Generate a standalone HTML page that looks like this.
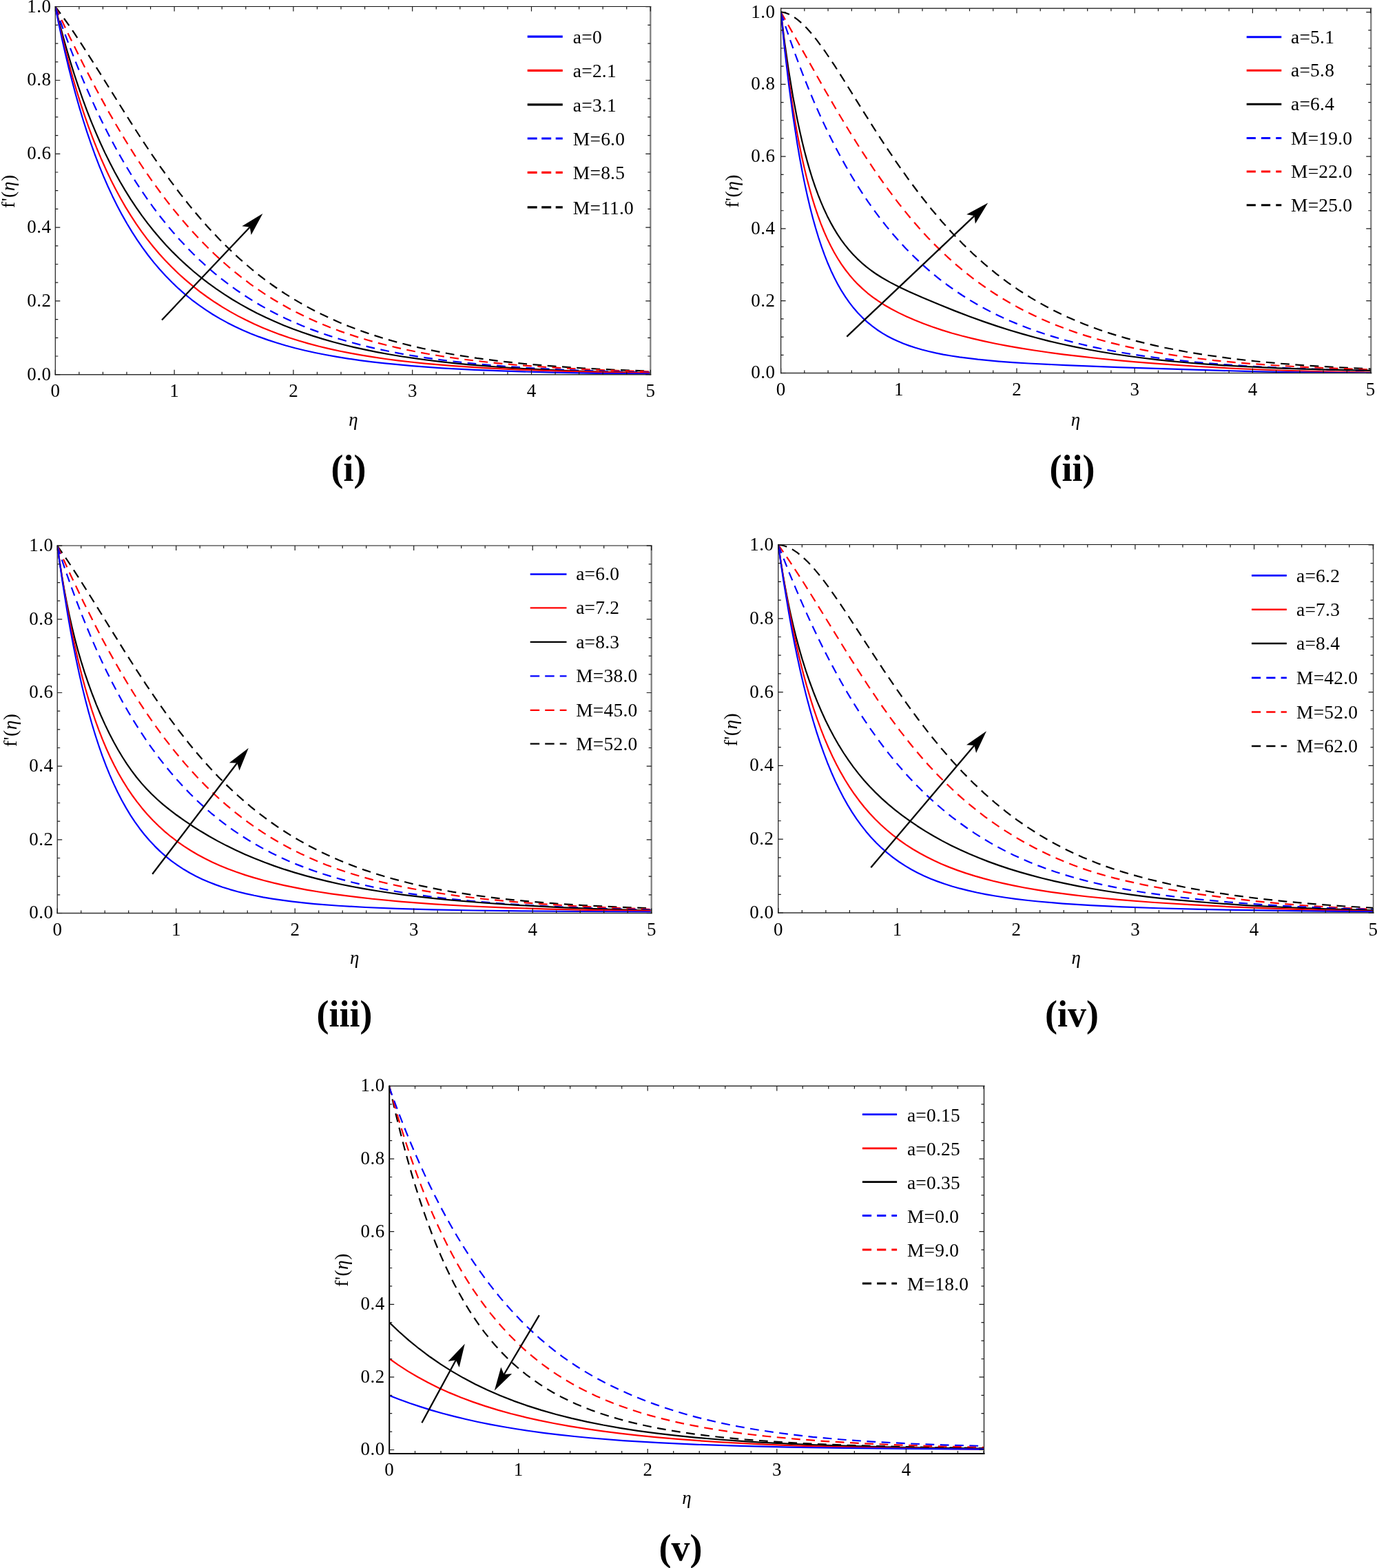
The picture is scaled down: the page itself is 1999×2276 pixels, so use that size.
<!DOCTYPE html>
<html><head><meta charset="utf-8"><title>f'(η) profiles</title>
<style>html,body{margin:0;padding:0;background:#fff;}svg{display:block;}text{font-family:'Liberation Serif','Times New Roman',serif;fill:#000;}</style>
</head><body>
<svg xmlns="http://www.w3.org/2000/svg" width="1999" height="2276" viewBox="0 0 1999 2276">
<rect width="1999" height="2276" fill="#fff"/>
<clipPath id="c1"><rect x="80.3" y="8.5" width="864.0" height="535.2"/></clipPath>
<g clip-path="url(#c1)" fill="none" stroke-width="2.2" stroke-linejoin="round">
<path d="M80.30,9.60 L88.95,21.16 L98.04,33.89 L107.69,47.97 L118.10,63.69 L137.38,93.84 L188.63,175.68 L203.98,199.49 L218.04,220.67 L232.74,242.04 L247.01,261.91 L261.07,280.58 L274.91,298.07 L283.77,308.80 L292.85,319.41 L301.72,329.40 L310.80,339.25 L319.88,348.73 L328.96,357.84 L338.05,366.58 L347.13,374.95 L356.42,383.17 L365.72,391.02 L375.02,398.52 L384.53,405.85 L394.26,412.98 L403.99,419.76 L413.94,426.34 L423.89,432.59 L434.92,439.15 L445.94,445.35 L457.19,451.30 L468.86,457.12 L480.54,462.59 L492.65,467.92 L504.76,472.91 L517.30,477.76 L530.06,482.36 L543.25,486.80 L556.65,491.00 L570.28,494.96 L584.33,498.76 L598.60,502.32 L613.30,505.72 L628.44,508.93 L643.79,511.93 L659.58,514.76 L692.44,519.90 L727.26,524.40 L764.45,528.31 L804.23,531.67 L847.26,534.51 L893.97,536.87 L945.00,538.80" stroke="#000000" stroke-dasharray="12.8 8.5"/>
<path d="M80.30,9.60 L100.70,52.67 L120.35,92.33 L139.55,129.21 L158.36,163.42 L167.87,179.97 L177.17,195.65 L186.47,210.85 L195.77,225.55 L205.06,239.75 L214.36,253.47 L223.66,266.70 L233.17,279.74 L242.69,292.29 L252.20,304.34 L261.93,316.16 L271.66,327.49 L281.39,338.34 L291.34,348.94 L301.29,359.06 L311.23,368.71 L321.40,378.10 L331.56,387.04 L341.94,395.71 L352.53,404.11 L363.13,412.06 L373.94,419.73 L384.97,427.12 L396.21,434.23 L407.45,440.91 L418.70,447.21 L430.37,453.36 L442.27,459.24 L454.38,464.85 L466.70,470.19 L479.24,475.27 L492.00,480.09 L505.19,484.73 L518.60,489.11 L532.43,493.30 L546.71,497.30 L561.19,501.05 L576.11,504.60 L591.47,507.96 L607.03,511.08 L622.82,513.97 L639.25,516.72 L656.12,519.28 L673.63,521.69 L710.39,526.02 L749.75,529.74 L792.13,532.89 L838.18,535.53 L888.78,537.70 L945.00,539.45" stroke="#ff0000" stroke-dasharray="12.8 8.5"/>
<path d="M80.30,9.68 L87.35,30.04 L94.48,49.82 L101.71,69.12 L109.04,87.94 L116.47,106.28 L123.98,124.05 L131.59,141.34 L139.33,158.22 L147.11,174.49 L155.12,190.51 L163.12,205.84 L171.33,220.91 L179.77,235.69 L188.20,249.81 L196.85,263.63 L205.50,276.82 L214.36,289.70 L223.44,302.27 L232.53,314.24 L241.82,325.89 L251.34,337.21 L260.85,347.96 L270.58,358.39 L280.53,368.49 L290.69,378.26 L300.85,387.50 L311.45,396.60 L322.04,405.18 L332.86,413.44 L344.10,421.52 L355.34,429.12 L367.02,436.52 L378.26,443.22 L389.94,449.74 L401.83,455.96 L413.94,461.89 L426.27,467.52 L439.02,472.96 L452.00,478.11 L465.19,482.98 L478.81,487.63 L492.65,492.02 L506.92,496.19 L521.62,500.15 L536.76,503.90 L552.11,507.38 L568.11,510.70 L584.55,513.81 L601.20,516.67 L618.28,519.34 L636.01,521.84 L654.39,524.17 L693.09,528.33 L734.83,531.87 L780.02,534.82 L829.32,537.24 L883.81,539.19 L945.00,540.71" stroke="#0000ff" stroke-dasharray="12.8 8.5"/>
<path d="M80.30,9.97 L85.59,30.89 L90.99,51.13 L96.52,70.81 L102.19,89.92 L107.97,108.34 L113.88,126.20 L119.93,143.49 L126.14,160.26 L132.41,176.28 L138.90,191.95 L145.60,207.23 L152.52,222.12 L159.66,236.60 L166.79,250.24 L174.14,263.51 L181.71,276.38 L189.50,288.86 L197.50,300.93 L205.71,312.61 L214.15,323.90 L222.79,334.79 L231.88,345.55 L240.96,355.67 L250.47,365.65 L260.20,375.25 L270.37,384.68 L280.74,393.73 L291.56,402.59 L302.58,411.09 L314.04,419.37 L325.50,427.14 L337.40,434.70 L349.07,441.65 L360.97,448.27 L373.29,454.69 L385.83,460.79 L398.59,466.58 L411.78,472.15 L425.40,477.50 L439.24,482.53 L453.51,487.34 L468.00,491.85 L483.13,496.19 L498.49,500.24 L514.27,504.07 L530.49,507.67 L547.35,511.09 L564.65,514.27 L582.17,517.21 L600.33,519.96 L619.14,522.53 L638.39,524.90 L658.50,527.11 L679.25,529.14 L723.37,532.73 L770.94,535.69 L822.83,538.08 L880.35,539.97 L945.00,541.40" stroke="#000000"/>
<path d="M80.30,9.89 L85.18,31.99 L90.16,53.32 L95.24,73.89 L100.46,93.85 L105.82,113.17 L111.29,131.80 L116.92,149.90 L122.68,167.32 L128.65,184.33 L134.79,200.82 L141.06,216.66 L147.33,231.57 L154.03,246.56 L160.74,260.65 L167.66,274.31 L174.79,287.54 L182.14,300.33 L189.71,312.69 L197.50,324.60 L205.50,336.07 L213.71,347.11 L222.15,357.73 L230.80,367.93 L239.88,377.96 L249.17,387.56 L258.91,396.96 L268.85,405.94 L279.23,414.69 L289.83,423.04 L300.64,430.99 L311.67,438.55 L323.13,445.86 L334.15,452.40 L345.40,458.61 L357.07,464.60 L368.97,470.26 L381.29,475.69 L393.83,480.79 L406.81,485.66 L420.00,490.21 L433.62,494.53 L447.67,498.62 L462.16,502.46 L477.30,506.12 L492.65,509.50 L508.65,512.69 L525.30,515.68 L542.38,518.45 L559.68,520.97 L577.84,523.34 L596.65,525.52 L616.33,527.55 L658.06,531.13 L703.69,534.12 L753.85,536.58 L809.64,538.57 L872.78,540.15 L945.00,541.36" stroke="#ff0000"/>
<path d="M80.30,9.92 L84.93,32.86 L89.71,55.21 L94.58,76.80 L99.56,97.63 L104.68,117.84 L109.90,137.30 L115.26,156.14 L120.73,174.26 L126.36,191.80 L132.11,208.69 L138.03,225.07 L144.09,240.80 L150.36,256.10 L156.63,270.48 L163.33,284.90 L170.04,298.42 L177.17,311.90 L184.31,324.51 L191.66,336.68 L199.23,348.40 L207.01,359.66 L215.01,370.48 L223.23,380.87 L231.88,391.06 L240.53,400.55 L249.61,409.82 L258.69,418.44 L268.20,426.82 L277.93,434.76 L288.10,442.43 L298.48,449.66 L309.07,456.46 L319.45,462.61 L330.04,468.41 L341.07,473.97 L352.32,479.19 L363.99,484.17 L376.10,488.91 L388.64,493.39 L401.40,497.55 L414.59,501.47 L428.43,505.22 L442.70,508.71 L457.40,511.97 L472.76,515.04 L488.76,517.92 L505.41,520.60 L522.70,523.08 L540.44,525.35 L558.81,527.44 L598.17,531.16 L641.41,534.29 L688.98,536.86 L741.53,538.93 L800.56,540.56 L867.37,541.78 L945.00,542.65" stroke="#0000ff"/>
</g>
<path d="M80.3,8.9V544.4000000000001" stroke="#1a1a1a" stroke-width="1.2"/>
<path d="M79.7,9.5H945.3" stroke="#111" stroke-width="1.2"/>
<path d="M944.3,8.9V544.4000000000001" stroke="#808080" stroke-width="2.3"/>
<path d="M79.7,543.7H945.3" stroke="#333" stroke-width="1.5"/>
<path d="M80.30,543.7v-7M80.30,9.5v7M114.86,543.7v-4M114.86,9.5v4M149.42,543.7v-4M149.42,9.5v4M183.98,543.7v-4M183.98,9.5v4M218.54,543.7v-4M218.54,9.5v4M253.10,543.7v-7M253.10,9.5v7M287.66,543.7v-4M287.66,9.5v4M322.22,543.7v-4M322.22,9.5v4M356.78,543.7v-4M356.78,9.5v4M391.34,543.7v-4M391.34,9.5v4M425.90,543.7v-7M425.90,9.5v7M460.46,543.7v-4M460.46,9.5v4M495.02,543.7v-4M495.02,9.5v4M529.58,543.7v-4M529.58,9.5v4M564.14,543.7v-4M564.14,9.5v4M598.70,543.7v-7M598.70,9.5v7M633.26,543.7v-4M633.26,9.5v4M667.82,543.7v-4M667.82,9.5v4M702.38,543.7v-4M702.38,9.5v4M736.94,543.7v-4M736.94,9.5v4M771.50,543.7v-7M771.50,9.5v7M806.06,543.7v-4M806.06,9.5v4M840.62,543.7v-4M840.62,9.5v4M875.18,543.7v-4M875.18,9.5v4M909.74,543.7v-4M909.74,9.5v4M944.30,543.7v-7M944.30,9.5v7M80.3,543.70h7M944.3,543.70h-7M80.3,517.00h4M944.3,517.00h-4M80.3,490.30h4M944.3,490.30h-4M80.3,463.60h4M944.3,463.60h-4M80.3,436.90h7M944.3,436.90h-7M80.3,410.20h4M944.3,410.20h-4M80.3,383.50h4M944.3,383.50h-4M80.3,356.80h4M944.3,356.80h-4M80.3,330.10h7M944.3,330.10h-7M80.3,303.40h4M944.3,303.40h-4M80.3,276.70h4M944.3,276.70h-4M80.3,250.00h4M944.3,250.00h-4M80.3,223.30h7M944.3,223.30h-7M80.3,196.60h4M944.3,196.60h-4M80.3,169.90h4M944.3,169.90h-4M80.3,143.20h4M944.3,143.20h-4M80.3,116.50h7M944.3,116.50h-7M80.3,89.80h4M944.3,89.80h-4M80.3,63.10h4M944.3,63.10h-4M80.3,36.40h4M944.3,36.40h-4M80.3,9.70h7M944.3,9.70h-7" stroke="#1a1a1a" stroke-width="1.2" fill="none"/>
<text x="80.30" y="576.20" font-size="27" text-anchor="middle" >0</text><text x="253.10" y="576.20" font-size="27" text-anchor="middle" >1</text><text x="425.90" y="576.20" font-size="27" text-anchor="middle" >2</text><text x="598.70" y="576.20" font-size="27" text-anchor="middle" >3</text><text x="771.50" y="576.20" font-size="27" text-anchor="middle" >4</text><text x="944.30" y="576.20" font-size="27" text-anchor="middle" >5</text><text x="74.40" y="551.60" font-size="27" text-anchor="end" letter-spacing="0.5">0.0</text><text x="74.40" y="444.80" font-size="27" text-anchor="end" letter-spacing="0.5">0.2</text><text x="74.40" y="338.00" font-size="27" text-anchor="end" letter-spacing="0.5">0.4</text><text x="74.40" y="231.20" font-size="27" text-anchor="end" letter-spacing="0.5">0.6</text><text x="74.40" y="124.40" font-size="27" text-anchor="end" letter-spacing="0.5">0.8</text><text x="74.40" y="17.60" font-size="27" text-anchor="end" letter-spacing="0.5">1.0</text>
<path d="M765.7,53.1H816.8" stroke="#0000ff" stroke-width="3.2" fill="none"/>
<text x="831.80" y="62.80" font-size="27.5" text-anchor="start" letter-spacing="0.2">a=0</text>
<path d="M765.7,102.4H816.8" stroke="#ff0000" stroke-width="3.2" fill="none"/>
<text x="831.80" y="112.10" font-size="27.5" text-anchor="start" letter-spacing="0.2">a=2.1</text>
<path d="M765.7,151.8H816.8" stroke="#000000" stroke-width="3.2" fill="none"/>
<text x="831.80" y="161.50" font-size="27.5" text-anchor="start" letter-spacing="0.2">a=3.1</text>
<path d="M765.7,201.0H816.8" stroke="#0000ff" stroke-width="3.2" stroke-dasharray="14 6.5" fill="none"/>
<text x="831.80" y="210.70" font-size="27.5" text-anchor="start" letter-spacing="0.2">M=6.0</text>
<path d="M765.7,250.4H816.8" stroke="#ff0000" stroke-width="3.2" stroke-dasharray="14 6.5" fill="none"/>
<text x="831.80" y="260.10" font-size="27.5" text-anchor="start" letter-spacing="0.2">M=8.5</text>
<path d="M765.7,300.8H816.8" stroke="#000000" stroke-width="3.2" stroke-dasharray="14 6.5" fill="none"/>
<text x="831.80" y="310.50" font-size="27.5" text-anchor="start" letter-spacing="0.2">M=11.0</text>
<path d="M235.00,464.50L362.69,329.74" stroke="#000" stroke-width="2.3"/>
<path d="M381.40,310.00L364.69,341.01L362.69,329.74L351.34,328.35Z" fill="#000"/>
<text transform="translate(20.50,277.70) rotate(-90)" font-size="27.5" text-anchor="middle" letter-spacing="0.5">f'(<tspan font-style="italic">η</tspan>)</text>
<text x="513.00" y="618.20" font-size="27" text-anchor="middle" font-style="italic">η</text>
<text x="506.10" y="697.80" font-size="54" text-anchor="middle" font-weight="bold">(i)</text>
<clipPath id="c2"><rect x="1133.6" y="11.2" width="856.7" height="530.3"/></clipPath>
<g clip-path="url(#c2)" fill="none" stroke-width="2.2" stroke-linejoin="round">
<path d="M1133.60,17.41 L1136.55,17.84 L1139.49,18.54 L1142.47,19.51 L1145.49,20.77 L1151.62,24.10 L1157.96,28.59 L1164.51,34.22 L1171.32,41.05 L1178.48,49.16 L1186.07,58.62 L1197.85,74.75 L1210.91,94.18 L1223.33,113.62 L1253.10,161.45 L1269.37,187.17 L1286.29,213.17 L1302.14,236.64 L1319.06,260.57 L1335.33,282.38 L1351.61,302.94 L1367.67,321.94 L1382.87,338.75 L1398.29,354.66 L1413.93,369.67 L1429.99,383.96 L1446.26,397.33 L1462.75,409.80 L1479.67,421.54 L1496.80,432.40 L1507.08,438.45 L1517.58,444.29 L1528.28,449.91 L1539.21,455.30 L1550.34,460.48 L1561.69,465.44 L1573.26,470.18 L1585.25,474.79 L1597.46,479.18 L1609.88,483.35 L1622.51,487.32 L1635.58,491.14 L1649.07,494.82 L1662.77,498.29 L1676.91,501.60 L1691.26,504.72 L1721.24,510.50 L1752.72,515.64 L1786.13,520.22 L1821.46,524.23 L1859.15,527.74 L1899.63,530.77 L1943.10,533.34 L1990.00,535.48" stroke="#000000" stroke-dasharray="12.8 8.5"/>
<path d="M1133.60,17.47 L1197.85,131.17 L1216.05,162.43 L1232.97,190.51 L1250.96,219.11 L1268.52,245.62 L1285.65,270.01 L1302.78,292.90 L1311.78,304.30 L1320.77,315.27 L1329.76,325.82 L1338.97,336.18 L1347.97,345.88 L1357.18,355.38 L1366.38,364.46 L1375.81,373.32 L1385.44,381.96 L1395.08,390.19 L1404.93,398.19 L1414.78,405.80 L1424.85,413.18 L1435.13,420.33 L1445.62,427.24 L1456.12,433.78 L1467.25,440.33 L1478.39,446.50 L1489.74,452.42 L1501.30,458.09 L1513.08,463.50 L1525.07,468.67 L1537.28,473.59 L1549.91,478.35 L1562.76,482.85 L1575.83,487.11 L1589.32,491.19 L1603.02,495.02 L1617.16,498.68 L1631.51,502.10 L1646.50,505.39 L1661.70,508.45 L1677.12,511.28 L1693.18,513.98 L1726.59,518.84 L1762.14,523.06 L1800.47,526.73 L1841.59,529.84 L1886.35,532.46 L1935.61,534.65 L1990.00,536.43" stroke="#ff0000" stroke-dasharray="12.8 8.5"/>
<path d="M1133.60,17.76 L1140.18,37.87 L1146.86,57.47 L1153.64,76.58 L1160.50,95.08 L1167.49,113.17 L1174.58,130.75 L1181.77,147.83 L1189.07,164.39 L1196.56,180.66 L1204.06,196.22 L1211.77,211.49 L1219.48,226.08 L1227.40,240.38 L1235.32,254.01 L1243.46,267.36 L1251.81,280.39 L1260.38,293.10 L1268.95,305.18 L1277.73,316.94 L1286.51,328.10 L1295.71,339.20 L1304.92,349.71 L1314.35,359.90 L1323.98,369.74 L1333.83,379.24 L1343.90,388.40 L1354.18,397.22 L1364.46,405.52 L1374.95,413.49 L1385.87,421.29 L1397.01,428.75 L1408.36,435.88 L1419.49,442.42 L1431.06,448.79 L1442.62,454.75 L1454.62,460.53 L1466.82,466.01 L1479.46,471.29 L1492.31,476.29 L1505.58,481.08 L1519.08,485.59 L1533.00,489.89 L1547.34,493.98 L1561.91,497.81 L1576.90,501.43 L1592.53,504.89 L1608.59,508.13 L1625.08,511.17 L1642.00,514.01 L1659.35,516.65 L1677.34,519.12 L1695.75,521.41 L1734.94,525.54 L1777.35,529.08 L1823.17,532.06 L1873.29,534.52 L1928.54,536.53 L1990.00,538.11" stroke="#0000ff" stroke-dasharray="12.8 8.5"/>
<path d="M1133.60,17.62 L1139.08,61.54 L1144.87,102.08 L1150.97,139.24 L1157.45,173.45 L1160.84,189.50 L1164.30,204.69 L1167.86,219.21 L1171.56,233.15 L1175.37,246.41 L1179.31,259.10 L1183.38,271.20 L1187.57,282.64 L1191.85,293.43 L1196.35,303.84 L1200.84,313.40 L1205.56,322.60 L1210.48,331.40 L1215.62,339.81 L1220.97,347.79 L1226.54,355.36 L1232.32,362.51 L1238.32,369.25 L1244.53,375.60 L1250.96,381.56 L1257.81,387.34 L1264.88,392.75 L1272.37,397.98 L1280.30,403.01 L1291.86,409.63 L1304.71,416.22 L1319.49,423.14 L1339.40,431.89 L1363.39,442.03 L1385.87,451.12 L1407.72,459.48 L1428.92,467.13 L1447.33,473.38 L1465.75,479.25 L1483.96,484.67 L1502.37,489.78 L1521.00,494.57 L1539.64,499.00 L1558.69,503.15 L1577.97,506.99 L1597.24,510.49 L1616.94,513.73 L1637.29,516.75 L1658.06,519.52 L1679.48,522.05 L1701.54,524.37 L1724.45,526.49 L1748.43,528.43 L1773.28,530.16 L1799.19,531.72 L1855.08,534.35 L1918.04,536.41 L1990.00,537.96" stroke="#000000"/>
<path d="M1133.60,17.60 L1138.98,67.17 L1144.70,112.90 L1150.73,154.53 L1153.88,173.97 L1157.14,192.57 L1160.50,210.31 L1163.96,227.21 L1167.52,243.27 L1171.22,258.65 L1175.06,273.32 L1179.00,287.17 L1183.11,300.42 L1187.35,312.96 L1191.64,324.57 L1196.13,335.72 L1200.84,346.39 L1205.77,356.56 L1210.91,366.22 L1216.05,375.00 L1221.40,383.34 L1227.19,391.51 L1232.97,398.92 L1239.18,406.14 L1245.60,412.90 L1252.46,419.42 L1259.52,425.51 L1267.02,431.35 L1274.94,436.94 L1283.51,442.43 L1293.57,448.26 L1304.28,453.87 L1316.06,459.51 L1328.27,464.85 L1340.69,469.81 L1353.75,474.58 L1367.46,479.15 L1381.59,483.44 L1396.37,487.53 L1411.79,491.43 L1428.06,495.17 L1444.98,498.72 L1462.75,502.12 L1481.39,505.36 L1501.09,508.50 L1521.65,511.48 L1544.77,514.54 L1568.97,517.45 L1594.24,520.22 L1620.80,522.86 L1648.43,525.35 L1676.91,527.67 L1735.80,531.77 L1794.91,535.00 L1855.94,537.49 L1919.97,539.29 L1990.00,540.48" stroke="#ff0000"/>
<path d="M1133.60,17.65 L1139.18,72.29 L1145.08,122.70 L1151.28,168.88 L1157.82,211.09 L1161.23,230.73 L1164.74,249.56 L1168.34,267.38 L1172.08,284.49 L1175.91,300.71 L1179.89,316.19 L1183.97,330.80 L1188.21,344.77 L1192.49,357.71 L1196.99,370.15 L1201.70,382.06 L1206.41,392.93 L1211.34,403.30 L1216.48,413.14 L1221.83,422.44 L1227.40,431.19 L1233.18,439.40 L1239.18,447.08 L1245.39,454.23 L1252.03,461.08 L1258.88,467.40 L1265.95,473.22 L1273.44,478.72 L1281.37,483.86 L1288.43,487.96 L1295.71,491.74 L1303.42,495.34 L1311.56,498.72 L1320.13,501.89 L1328.91,504.78 L1338.33,507.52 L1348.18,510.05 L1358.46,512.38 L1369.38,514.55 L1380.73,516.53 L1392.94,518.40 L1419.49,521.69 L1449.90,524.54 L1470.46,526.06 L1493.16,527.48 L1547.13,530.14 L1622.94,533.03 L1740.94,536.96 L1807.11,538.84 L1865.58,540.09 L1924.04,540.88 L1990.00,541.32" stroke="#0000ff"/>
</g>
<path d="M1133.6,11.6V542.2" stroke="#1a1a1a" stroke-width="1.2"/>
<path d="M1133.0,12.2H1991.3" stroke="#111" stroke-width="1.2"/>
<path d="M1990.3,11.6V542.2" stroke="#808080" stroke-width="2.3"/>
<path d="M1133.0,541.5H1991.3" stroke="#333" stroke-width="1.5"/>
<path d="M1133.60,541.5v-7M1133.60,12.2v7M1167.84,541.5v-4M1167.84,12.2v4M1202.08,541.5v-4M1202.08,12.2v4M1236.32,541.5v-4M1236.32,12.2v4M1270.56,541.5v-4M1270.56,12.2v4M1304.80,541.5v-7M1304.80,12.2v7M1339.04,541.5v-4M1339.04,12.2v4M1373.28,541.5v-4M1373.28,12.2v4M1407.52,541.5v-4M1407.52,12.2v4M1441.76,541.5v-4M1441.76,12.2v4M1476.00,541.5v-7M1476.00,12.2v7M1510.24,541.5v-4M1510.24,12.2v4M1544.48,541.5v-4M1544.48,12.2v4M1578.72,541.5v-4M1578.72,12.2v4M1612.96,541.5v-4M1612.96,12.2v4M1647.20,541.5v-7M1647.20,12.2v7M1681.44,541.5v-4M1681.44,12.2v4M1715.68,541.5v-4M1715.68,12.2v4M1749.92,541.5v-4M1749.92,12.2v4M1784.16,541.5v-4M1784.16,12.2v4M1818.40,541.5v-7M1818.40,12.2v7M1852.64,541.5v-4M1852.64,12.2v4M1886.88,541.5v-4M1886.88,12.2v4M1921.12,541.5v-4M1921.12,12.2v4M1955.36,541.5v-4M1955.36,12.2v4M1989.60,541.5v-7M1989.60,12.2v7M1133.6,541.50h7M1990.3,541.50h-7M1133.6,515.30h4M1990.3,515.30h-4M1133.6,489.11h4M1990.3,489.11h-4M1133.6,462.91h4M1990.3,462.91h-4M1133.6,436.72h7M1990.3,436.72h-7M1133.6,410.52h4M1990.3,410.52h-4M1133.6,384.33h4M1990.3,384.33h-4M1133.6,358.13h4M1990.3,358.13h-4M1133.6,331.94h7M1990.3,331.94h-7M1133.6,305.75h4M1990.3,305.75h-4M1133.6,279.55h4M1990.3,279.55h-4M1133.6,253.35h4M1990.3,253.35h-4M1133.6,227.16h7M1990.3,227.16h-7M1133.6,200.96h4M1990.3,200.96h-4M1133.6,174.77h4M1990.3,174.77h-4M1133.6,148.58h4M1990.3,148.58h-4M1133.6,122.38h7M1990.3,122.38h-7M1133.6,96.18h4M1990.3,96.18h-4M1133.6,69.99h4M1990.3,69.99h-4M1133.6,43.79h4M1990.3,43.79h-4M1133.6,17.60h7M1990.3,17.60h-7" stroke="#1a1a1a" stroke-width="1.2" fill="none"/>
<text x="1133.60" y="574.00" font-size="27" text-anchor="middle" >0</text><text x="1304.80" y="574.00" font-size="27" text-anchor="middle" >1</text><text x="1476.00" y="574.00" font-size="27" text-anchor="middle" >2</text><text x="1647.20" y="574.00" font-size="27" text-anchor="middle" >3</text><text x="1818.40" y="574.00" font-size="27" text-anchor="middle" >4</text><text x="1989.60" y="574.00" font-size="27" text-anchor="middle" >5</text><text x="1125.60" y="549.40" font-size="27" text-anchor="end" letter-spacing="0.5">0.0</text><text x="1125.60" y="444.62" font-size="27" text-anchor="end" letter-spacing="0.5">0.2</text><text x="1125.60" y="339.84" font-size="27" text-anchor="end" letter-spacing="0.5">0.4</text><text x="1125.60" y="235.06" font-size="27" text-anchor="end" letter-spacing="0.5">0.6</text><text x="1125.60" y="130.28" font-size="27" text-anchor="end" letter-spacing="0.5">0.8</text><text x="1125.60" y="25.50" font-size="27" text-anchor="end" letter-spacing="0.5">1.0</text>
<path d="M1809.7,53.8H1860.3" stroke="#0000ff" stroke-width="3.0" fill="none"/>
<text x="1874.00" y="62.90" font-size="27.5" text-anchor="start" letter-spacing="0.2">a=5.1</text>
<path d="M1809.7,102.2H1860.3" stroke="#ff0000" stroke-width="3.0" fill="none"/>
<text x="1874.00" y="111.30" font-size="27.5" text-anchor="start" letter-spacing="0.2">a=5.8</text>
<path d="M1809.7,151.3H1860.3" stroke="#000000" stroke-width="3.0" fill="none"/>
<text x="1874.00" y="160.40" font-size="27.5" text-anchor="start" letter-spacing="0.2">a=6.4</text>
<path d="M1809.7,200.5H1860.3" stroke="#0000ff" stroke-width="3.0" stroke-dasharray="13.2 8.1" fill="none"/>
<text x="1874.00" y="209.60" font-size="27.5" text-anchor="start" letter-spacing="0.2">M=19.0</text>
<path d="M1809.7,248.9H1860.3" stroke="#ff0000" stroke-width="3.0" stroke-dasharray="13.2 8.1" fill="none"/>
<text x="1874.00" y="258.00" font-size="27.5" text-anchor="start" letter-spacing="0.2">M=22.0</text>
<path d="M1809.7,297.8H1860.3" stroke="#000000" stroke-width="3.0" stroke-dasharray="13.2 8.1" fill="none"/>
<text x="1874.00" y="306.90" font-size="27.5" text-anchor="start" letter-spacing="0.2">M=25.0</text>
<path d="M1229.30,488.60L1414.45,313.30" stroke="#000" stroke-width="2.3"/>
<path d="M1434.20,294.60L1415.84,324.66L1414.45,313.30L1403.19,311.30Z" fill="#000"/>
<text transform="translate(1072.00,277.30) rotate(-90)" font-size="27.5" text-anchor="middle" letter-spacing="0.5">f'(<tspan font-style="italic">η</tspan>)</text>
<text x="1561.50" y="617.70" font-size="27" text-anchor="middle" font-style="italic">η</text>
<text x="1556.50" y="697.80" font-size="54" text-anchor="middle" font-weight="bold">(ii)</text>
<clipPath id="c3"><rect x="83.2" y="791.0" width="862.5" height="534.5"/></clipPath>
<g clip-path="url(#c3)" fill="none" stroke-width="2.2" stroke-linejoin="round">
<path d="M83.20,792.01 L98.07,813.75 L114.72,839.31 L131.53,865.98 L180.82,945.32 L196.56,970.00 L210.99,992.04 L227.37,1016.18 L243.10,1038.38 L258.62,1059.23 L273.71,1078.44 L282.76,1089.45 L291.59,1099.82 L300.43,1109.81 L309.26,1119.43 L318.10,1128.66 L327.15,1137.75 L336.20,1146.45 L345.47,1154.98 L354.73,1163.14 L364.22,1171.13 L373.70,1178.75 L383.40,1186.18 L393.31,1193.42 L403.22,1200.31 L413.35,1207.00 L423.48,1213.35 L434.47,1219.88 L445.46,1226.04 L456.88,1232.08 L468.31,1237.77 L479.94,1243.22 L492.01,1248.53 L504.08,1253.50 L516.58,1258.31 L529.29,1262.89 L542.22,1267.22 L555.37,1271.32 L568.95,1275.25 L582.74,1278.95 L596.96,1282.47 L611.62,1285.82 L626.49,1288.94 L641.57,1291.86 L657.30,1294.64 L690.06,1299.68 L724.76,1304.08 L762.04,1307.92 L802.12,1311.22 L845.44,1314.03 L892.85,1316.40 L945.00,1318.36" stroke="#000000" stroke-dasharray="12.8 8.5"/>
<path d="M83.20,792.21 L102.50,834.67 L121.24,873.95 L139.66,910.55 L148.93,928.19 L157.98,944.90 L167.03,961.10 L176.08,976.79 L185.13,991.96 L194.40,1006.97 L203.45,1021.11 L212.72,1035.07 L221.98,1048.50 L231.25,1061.42 L240.52,1073.83 L250.00,1086.01 L259.48,1097.68 L268.96,1108.86 L278.66,1119.78 L288.36,1130.21 L298.27,1140.38 L308.19,1150.06 L318.31,1159.47 L328.44,1168.41 L338.79,1177.08 L349.35,1185.46 L359.91,1193.38 L370.68,1201.03 L381.67,1208.39 L392.88,1215.46 L403.87,1221.99 L415.08,1228.25 L426.50,1234.25 L437.92,1239.87 L449.56,1245.25 L461.62,1250.46 L473.91,1255.41 L486.41,1260.11 L499.12,1264.55 L512.27,1268.81 L525.63,1272.82 L539.42,1276.65 L553.64,1280.29 L568.08,1283.69 L582.95,1286.90 L598.47,1289.96 L614.42,1292.85 L631.01,1295.58 L665.92,1300.58 L703.64,1305.02 L744.15,1308.91 L788.11,1312.30 L835.96,1315.23 L888.11,1317.72 L945.00,1319.80" stroke="#ff0000" stroke-dasharray="12.8 8.5"/>
<path d="M83.20,792.22 L89.93,812.83 L96.73,832.83 L103.64,852.33 L110.65,871.33 L117.76,889.82 L124.94,907.72 L132.26,925.20 L139.66,942.13 L147.20,958.64 L154.75,974.43 L162.51,989.96 L170.48,1005.19 L178.45,1019.74 L186.64,1033.98 L195.05,1047.90 L203.45,1061.16 L212.07,1074.09 L220.69,1086.39 L229.53,1098.37 L238.36,1109.75 L247.63,1121.07 L256.90,1131.79 L266.38,1142.18 L276.08,1152.23 L285.99,1161.94 L296.12,1171.29 L306.46,1180.29 L316.81,1188.76 L327.37,1196.89 L338.36,1204.84 L349.35,1212.29 L360.77,1219.54 L371.76,1226.07 L382.97,1232.30 L394.39,1238.24 L406.24,1243.99 L418.31,1249.45 L430.59,1254.62 L443.31,1259.58 L456.24,1264.26 L469.60,1268.73 L483.18,1272.93 L497.18,1276.91 L511.62,1280.69 L526.49,1284.25 L541.79,1287.60 L557.52,1290.75 L573.90,1293.73 L590.50,1296.47 L607.74,1299.05 L625.62,1301.47 L644.37,1303.75 L684.02,1307.85 L726.91,1311.38 L773.67,1314.39 L824.96,1316.94 L881.64,1319.06 L945.00,1320.80" stroke="#0000ff" stroke-dasharray="12.8 8.5"/>
<path d="M83.20,792.17 L86.41,814.25 L89.72,835.16 L93.18,855.15 L96.78,874.26 L100.53,892.54 L104.47,910.11 L108.61,927.07 L112.96,943.44 L117.65,959.67 L122.66,975.61 L128.01,991.38 L133.81,1007.27 L139.88,1022.81 L146.13,1037.73 L152.38,1051.64 L158.84,1065.02 L165.09,1077.05 L171.34,1088.25 L177.81,1099.02 L184.49,1109.34 L191.17,1118.89 L198.06,1127.99 L205.18,1136.63 L212.50,1144.80 L220.04,1152.54 L228.23,1160.28 L236.85,1167.81 L245.91,1175.16 L256.25,1183.01 L267.67,1191.14 L279.31,1198.95 L290.95,1206.31 L303.44,1213.75 L316.16,1220.85 L329.09,1227.61 L342.24,1234.03 L355.81,1240.21 L369.60,1246.07 L383.61,1251.59 L398.05,1256.88 L412.92,1261.92 L428.01,1266.65 L443.52,1271.13 L459.69,1275.42 L476.06,1279.41 L493.09,1283.20 L510.54,1286.75 L528.86,1290.13 L547.61,1293.27 L567.22,1296.26 L587.48,1299.04 L608.60,1301.66 L630.58,1304.11 L653.42,1306.40 L702.13,1310.52 L754.93,1314.05 L812.68,1317.04 L875.82,1319.51 L945.00,1321.49" stroke="#000000"/>
<path d="M83.20,792.27 L90.42,840.25 L94.18,862.93 L98.04,884.74 L102.02,905.67 L106.09,925.73 L110.30,945.09 L114.62,963.59 L119.07,981.37 L123.63,998.31 L128.36,1014.66 L133.22,1030.30 L138.15,1045.01 L143.33,1059.34 L148.71,1073.18 L154.32,1086.49 L160.13,1099.27 L165.95,1111.10 L171.99,1122.44 L178.45,1133.67 L184.92,1144.03 L191.81,1154.24 L198.93,1163.94 L206.25,1173.17 L214.01,1182.18 L221.98,1190.72 L230.39,1199.01 L239.01,1206.84 L247.84,1214.22 L257.11,1221.33 L266.81,1228.15 L276.72,1234.52 L286.85,1240.48 L297.20,1246.05 L308.19,1251.46 L319.39,1256.49 L331.03,1261.25 L343.31,1265.82 L356.03,1270.13 L369.17,1274.17 L382.97,1278.03 L397.40,1281.68 L412.49,1285.14 L428.44,1288.45 L445.03,1291.56 L462.49,1294.51 L480.80,1297.32 L499.98,1299.96 L520.03,1302.46 L540.50,1304.76 L583.60,1308.86 L630.15,1312.34 L680.58,1315.24 L735.75,1317.62 L797.16,1319.54 L866.13,1321.04 L945.00,1322.19" stroke="#ff0000"/>
<path d="M83.20,792.36 L90.59,844.20 L98.32,892.26 L102.33,914.94 L106.43,936.76 L110.65,957.74 L114.96,977.88 L119.38,997.17 L123.93,1015.73 L128.60,1033.51 L133.36,1050.43 L138.37,1066.99 L143.33,1082.24 L148.50,1097.04 L153.89,1111.34 L159.27,1124.61 L164.88,1137.39 L170.69,1149.67 L176.73,1161.42 L182.98,1172.64 L189.44,1183.31 L195.91,1193.12 L202.80,1202.73 L209.92,1211.80 L217.24,1220.34 L224.79,1228.36 L232.54,1235.88 L240.73,1243.09 L249.14,1249.80 L257.97,1256.17 L267.02,1262.05 L275.43,1266.98 L284.27,1271.69 L293.53,1276.15 L303.01,1280.27 L312.93,1284.14 L323.06,1287.69 L333.83,1291.07 L345.04,1294.20 L356.67,1297.09 L368.96,1299.79 L381.89,1302.30 L395.25,1304.58 L409.47,1306.70 L424.34,1308.64 L440.07,1310.42 L456.67,1312.04 L491.58,1314.77 L531.02,1317.02 L575.84,1318.86 L627.56,1320.33 L687.26,1321.48 L757.73,1322.36 L842.20,1323.02 L945.00,1323.50" stroke="#0000ff"/>
</g>
<path d="M83.2,791.4V1326.2" stroke="#1a1a1a" stroke-width="1.2"/>
<path d="M82.60000000000001,792.0H946.7" stroke="#111" stroke-width="1.2"/>
<path d="M945.7,791.4V1326.2" stroke="#808080" stroke-width="2.3"/>
<path d="M82.60000000000001,1325.5H946.7" stroke="#333" stroke-width="1.5"/>
<path d="M83.20,1325.5v-7M83.20,792.0v7M117.70,1325.5v-4M117.70,792.0v4M152.20,1325.5v-4M152.20,792.0v4M186.70,1325.5v-4M186.70,792.0v4M221.20,1325.5v-4M221.20,792.0v4M255.70,1325.5v-7M255.70,792.0v7M290.20,1325.5v-4M290.20,792.0v4M324.70,1325.5v-4M324.70,792.0v4M359.20,1325.5v-4M359.20,792.0v4M393.70,1325.5v-4M393.70,792.0v4M428.20,1325.5v-7M428.20,792.0v7M462.70,1325.5v-4M462.70,792.0v4M497.20,1325.5v-4M497.20,792.0v4M531.70,1325.5v-4M531.70,792.0v4M566.20,1325.5v-4M566.20,792.0v4M600.70,1325.5v-7M600.70,792.0v7M635.20,1325.5v-4M635.20,792.0v4M669.70,1325.5v-4M669.70,792.0v4M704.20,1325.5v-4M704.20,792.0v4M738.70,1325.5v-4M738.70,792.0v4M773.20,1325.5v-7M773.20,792.0v7M807.70,1325.5v-4M807.70,792.0v4M842.20,1325.5v-4M842.20,792.0v4M876.70,1325.5v-4M876.70,792.0v4M911.20,1325.5v-4M911.20,792.0v4M945.70,1325.5v-7M945.70,792.0v7M83.2,1325.50h7M945.7,1325.50h-7M83.2,1298.84h4M945.7,1298.84h-4M83.2,1272.17h4M945.7,1272.17h-4M83.2,1245.51h4M945.7,1245.51h-4M83.2,1218.84h7M945.7,1218.84h-7M83.2,1192.17h4M945.7,1192.17h-4M83.2,1165.51h4M945.7,1165.51h-4M83.2,1138.85h4M945.7,1138.85h-4M83.2,1112.18h7M945.7,1112.18h-7M83.2,1085.52h4M945.7,1085.52h-4M83.2,1058.85h4M945.7,1058.85h-4M83.2,1032.18h4M945.7,1032.18h-4M83.2,1005.52h7M945.7,1005.52h-7M83.2,978.86h4M945.7,978.86h-4M83.2,952.19h4M945.7,952.19h-4M83.2,925.53h4M945.7,925.53h-4M83.2,898.86h7M945.7,898.86h-7M83.2,872.19h4M945.7,872.19h-4M83.2,845.53h4M945.7,845.53h-4M83.2,818.87h4M945.7,818.87h-4M83.2,792.20h7M945.7,792.20h-7" stroke="#1a1a1a" stroke-width="1.2" fill="none"/>
<text x="83.20" y="1358.00" font-size="27" text-anchor="middle" >0</text><text x="255.70" y="1358.00" font-size="27" text-anchor="middle" >1</text><text x="428.20" y="1358.00" font-size="27" text-anchor="middle" >2</text><text x="600.70" y="1358.00" font-size="27" text-anchor="middle" >3</text><text x="773.20" y="1358.00" font-size="27" text-anchor="middle" >4</text><text x="945.70" y="1358.00" font-size="27" text-anchor="middle" >5</text><text x="77.50" y="1333.40" font-size="27" text-anchor="end" letter-spacing="0.5">0.0</text><text x="77.50" y="1226.74" font-size="27" text-anchor="end" letter-spacing="0.5">0.2</text><text x="77.50" y="1120.08" font-size="27" text-anchor="end" letter-spacing="0.5">0.4</text><text x="77.50" y="1013.42" font-size="27" text-anchor="end" letter-spacing="0.5">0.6</text><text x="77.50" y="906.76" font-size="27" text-anchor="end" letter-spacing="0.5">0.8</text><text x="77.50" y="800.10" font-size="27" text-anchor="end" letter-spacing="0.5">1.0</text>
<path d="M769.7,833.5H822.5" stroke="#0000ff" stroke-width="2.3" fill="none"/>
<text x="836.20" y="842.30" font-size="27.5" text-anchor="start" letter-spacing="0.2">a=6.0</text>
<path d="M769.7,882.4H822.5" stroke="#ff0000" stroke-width="2.3" fill="none"/>
<text x="836.20" y="891.20" font-size="27.5" text-anchor="start" letter-spacing="0.2">a=7.2</text>
<path d="M769.7,931.8H822.5" stroke="#000000" stroke-width="2.3" fill="none"/>
<text x="836.20" y="940.60" font-size="27.5" text-anchor="start" letter-spacing="0.2">a=8.3</text>
<path d="M769.7,981.4H822.5" stroke="#0000ff" stroke-width="2.3" stroke-dasharray="13.5 8" fill="none"/>
<text x="836.20" y="990.20" font-size="27.5" text-anchor="start" letter-spacing="0.2">M=38.0</text>
<path d="M769.7,1030.9H822.5" stroke="#ff0000" stroke-width="2.3" stroke-dasharray="13.5 8" fill="none"/>
<text x="836.20" y="1039.70" font-size="27.5" text-anchor="start" letter-spacing="0.2">M=45.0</text>
<path d="M769.7,1079.7H822.5" stroke="#000000" stroke-width="2.3" stroke-dasharray="13.5 8" fill="none"/>
<text x="836.20" y="1088.50" font-size="27.5" text-anchor="start" letter-spacing="0.2">M=52.0</text>
<path d="M221.20,1268.80L344.30,1107.43" stroke="#000" stroke-width="2.3"/>
<path d="M360.80,1085.80L347.49,1118.41L344.30,1107.43L332.86,1107.25Z" fill="#000"/>
<text transform="translate(23.60,1059.80) rotate(-90)" font-size="27.5" text-anchor="middle" letter-spacing="0.5">f'(<tspan font-style="italic">η</tspan>)</text>
<text x="514.80" y="1399.10" font-size="27" text-anchor="middle" font-style="italic">η</text>
<text x="499.90" y="1489.70" font-size="54" text-anchor="middle" font-weight="bold">(iii)</text>
<clipPath id="c4"><rect x="1129.8" y="789.5" width="863.8" height="535.5"/></clipPath>
<g clip-path="url(#c4)" fill="none" stroke-width="2.2" stroke-linejoin="round">
<path d="M1129.80,790.85 L1133.12,791.17 L1136.44,791.79 L1139.82,792.73 L1143.25,793.99 L1146.70,795.55 L1150.23,797.44 L1157.42,802.16 L1164.85,808.17 L1172.59,815.52 L1180.75,824.31 L1189.41,834.63 L1195.89,842.91 L1202.58,851.89 L1217.70,873.43 L1231.74,894.51 L1265.65,946.67 L1282.71,972.55 L1299.99,998.09 L1316.19,1021.20 L1333.25,1044.50 L1349.88,1066.04 L1366.30,1086.10 L1382.71,1104.93 L1397.83,1121.20 L1413.16,1136.68 L1428.71,1151.33 L1444.27,1164.98 L1460.03,1177.82 L1476.23,1190.03 L1492.64,1201.42 L1509.28,1212.03 L1519.43,1218.06 L1529.58,1223.76 L1539.94,1229.28 L1550.31,1234.48 L1561.11,1239.59 L1571.91,1244.40 L1582.92,1249.00 L1594.15,1253.40 L1605.60,1257.60 L1617.48,1261.68 L1629.79,1265.63 L1642.32,1269.38 L1668.67,1276.49 L1696.53,1283.04 L1726.77,1289.18 L1758.73,1294.77 L1792.86,1299.88 L1828.92,1304.48 L1866.94,1308.57 L1907.11,1312.17 L1949.22,1315.26 L1993.50,1317.86" stroke="#000000" stroke-dasharray="12.8 8.5"/>
<path d="M1129.80,790.97 L1137.68,802.05 L1145.94,814.09 L1164.12,841.85 L1181.85,870.08 L1231.31,950.22 L1246.64,974.39 L1260.90,996.24 L1276.45,1019.22 L1291.35,1040.29 L1306.04,1060.06 L1320.51,1078.52 L1329.36,1089.30 L1338.00,1099.44 L1346.64,1109.19 L1355.50,1118.80 L1364.35,1128.02 L1373.42,1137.09 L1382.50,1145.77 L1391.57,1154.09 L1400.85,1162.24 L1410.36,1170.21 L1419.86,1177.83 L1429.58,1185.26 L1439.51,1192.51 L1449.45,1199.41 L1459.60,1206.11 L1469.75,1212.49 L1480.33,1218.80 L1491.13,1224.90 L1502.15,1230.78 L1513.16,1236.34 L1524.18,1241.58 L1535.41,1246.60 L1546.64,1251.30 L1558.09,1255.78 L1569.53,1259.96 L1581.20,1263.92 L1593.07,1267.66 L1605.17,1271.17 L1617.91,1274.60 L1631.09,1277.87 L1659.38,1284.13 L1676.23,1287.43 L1694.15,1290.67 L1712.94,1293.80 L1732.60,1296.81 L1774.71,1302.54 L1819.64,1307.75 L1861.97,1311.88 L1903.65,1315.16 L1946.85,1317.75 L1993.50,1319.77" stroke="#ff0000" stroke-dasharray="12.8 8.5"/>
<path d="M1129.80,790.97 L1145.91,831.80 L1153.99,851.34 L1162.15,870.40 L1170.34,888.89 L1178.60,906.90 L1186.82,924.18 L1195.24,941.27 L1203.66,957.72 L1212.09,973.57 L1220.73,989.19 L1229.37,1004.20 L1238.01,1018.60 L1246.86,1032.77 L1255.72,1046.34 L1264.57,1059.33 L1273.64,1072.07 L1282.71,1084.24 L1292.00,1096.13 L1301.29,1107.47 L1310.79,1118.53 L1320.51,1129.28 L1330.23,1139.50 L1340.16,1149.42 L1350.31,1159.04 L1360.68,1168.34 L1371.26,1177.32 L1381.85,1185.81 L1392.86,1194.15 L1403.88,1202.02 L1415.11,1209.58 L1426.56,1216.81 L1437.57,1223.36 L1448.58,1229.52 L1460.03,1235.53 L1471.48,1241.16 L1483.14,1246.53 L1495.24,1251.72 L1507.55,1256.65 L1520.07,1261.31 L1532.82,1265.71 L1545.99,1269.92 L1559.38,1273.88 L1573.20,1277.63 L1587.46,1281.19 L1601.93,1284.51 L1617.05,1287.67 L1632.60,1290.65 L1649.01,1293.51 L1666.08,1296.22 L1702.14,1301.17 L1741.24,1305.58 L1783.78,1309.48 L1830.00,1312.89 L1880.33,1315.84 L1934.75,1318.33 L1993.50,1320.37" stroke="#0000ff" stroke-dasharray="12.8 8.5"/>
<path d="M1129.80,791.03 L1133.12,812.88 L1136.57,833.88 L1140.13,853.81 L1143.84,872.92 L1147.70,891.29 L1151.71,908.84 L1155.93,925.84 L1160.32,942.14 L1165.00,958.19 L1169.93,973.75 L1175.15,989.00 L1180.68,1003.99 L1186.39,1018.39 L1192.22,1032.05 L1198.48,1045.68 L1204.74,1058.31 L1211.01,1070.04 L1217.70,1081.69 L1224.40,1092.50 L1231.53,1103.18 L1238.87,1113.38 L1246.43,1123.12 L1254.42,1132.67 L1262.63,1141.77 L1271.27,1150.66 L1280.12,1159.13 L1289.41,1167.39 L1299.34,1175.63 L1309.71,1183.64 L1320.51,1191.44 L1331.96,1199.20 L1343.62,1206.60 L1355.71,1213.78 L1368.02,1220.61 L1380.77,1227.21 L1393.94,1233.56 L1407.33,1239.57 L1421.16,1245.34 L1435.41,1250.87 L1450.10,1256.14 L1465.00,1261.10 L1480.55,1265.88 L1496.53,1270.42 L1512.95,1274.71 L1530.01,1278.81 L1547.50,1282.67 L1565.65,1286.33 L1584.22,1289.76 L1603.44,1293.00 L1623.10,1296.02 L1643.61,1298.87 L1664.78,1301.54 L1686.81,1304.05 L1709.49,1306.37 L1757.43,1310.52 L1809.05,1314.04 L1865.21,1316.99 L1926.33,1319.40 L1993.50,1321.29" stroke="#000000"/>
<path d="M1129.80,791.14 L1137.27,838.95 L1141.14,861.49 L1145.11,883.18 L1149.19,904.03 L1153.37,924.04 L1157.69,943.36 L1162.12,961.85 L1166.68,979.65 L1171.34,996.62 L1176.15,1012.91 L1181.13,1028.62 L1186.17,1043.43 L1191.57,1058.16 L1196.97,1071.83 L1202.58,1085.02 L1208.42,1097.71 L1214.25,1109.47 L1220.51,1121.16 L1226.77,1131.97 L1233.25,1142.32 L1240.17,1152.52 L1247.29,1162.22 L1254.64,1171.44 L1262.20,1180.18 L1270.19,1188.71 L1278.61,1196.97 L1287.25,1204.77 L1296.10,1212.14 L1305.39,1219.24 L1315.11,1226.07 L1325.05,1232.46 L1334.98,1238.32 L1345.13,1243.81 L1355.71,1249.06 L1366.51,1253.97 L1377.74,1258.63 L1389.62,1263.14 L1401.93,1267.40 L1414.68,1271.41 L1427.85,1275.18 L1441.67,1278.78 L1456.14,1282.19 L1471.26,1285.41 L1487.03,1288.46 L1503.66,1291.36 L1520.94,1294.08 L1539.08,1296.66 L1558.52,1299.15 L1579.04,1301.51 L1623.31,1305.85 L1672.56,1309.75 L1726.98,1313.22 L1787.46,1316.31 L1852.47,1318.93 L1921.15,1321.05 L1993.50,1322.65" stroke="#ff0000"/>
<path d="M1129.80,791.14 L1137.33,842.48 L1145.22,890.17 L1149.29,912.69 L1153.44,934.21 L1157.73,955.09 L1162.08,974.99 L1166.54,994.08 L1171.14,1012.49 L1175.84,1030.09 L1180.68,1047.01 L1185.52,1062.81 L1190.71,1078.56 L1195.89,1093.20 L1201.29,1107.37 L1206.90,1121.03 L1212.52,1133.69 L1218.35,1145.85 L1224.40,1157.50 L1230.66,1168.62 L1236.93,1178.86 L1243.40,1188.62 L1250.32,1198.18 L1257.23,1206.94 L1264.57,1215.45 L1272.13,1223.44 L1279.91,1230.93 L1287.90,1237.94 L1296.32,1244.64 L1305.17,1251.01 L1314.25,1256.89 L1322.89,1261.97 L1331.74,1266.68 L1341.03,1271.16 L1350.75,1275.40 L1360.90,1279.38 L1371.26,1283.03 L1382.06,1286.45 L1393.51,1289.69 L1405.39,1292.69 L1417.92,1295.51 L1430.87,1298.09 L1444.70,1300.53 L1459.17,1302.78 L1474.29,1304.85 L1490.27,1306.76 L1507.12,1308.53 L1542.97,1311.59 L1583.14,1314.18 L1628.93,1316.39 L1681.41,1318.26 L1742.53,1319.86 L1813.81,1321.22 L1897.82,1322.40 L1993.50,1323.38" stroke="#0000ff"/>
</g>
<path d="M1129.8,789.9V1325.7" stroke="#1a1a1a" stroke-width="1.2"/>
<path d="M1129.2,790.5H1994.6" stroke="#111" stroke-width="1.2"/>
<path d="M1993.6,789.9V1325.7" stroke="#555" stroke-width="1.5"/>
<path d="M1129.2,1325.0H1994.6" stroke="#333" stroke-width="1.5"/>
<path d="M1129.80,1325.0v-7M1129.80,790.5v7M1164.34,1325.0v-4M1164.34,790.5v4M1198.88,1325.0v-4M1198.88,790.5v4M1233.42,1325.0v-4M1233.42,790.5v4M1267.96,1325.0v-4M1267.96,790.5v4M1302.50,1325.0v-7M1302.50,790.5v7M1337.04,1325.0v-4M1337.04,790.5v4M1371.58,1325.0v-4M1371.58,790.5v4M1406.12,1325.0v-4M1406.12,790.5v4M1440.66,1325.0v-4M1440.66,790.5v4M1475.20,1325.0v-7M1475.20,790.5v7M1509.74,1325.0v-4M1509.74,790.5v4M1544.28,1325.0v-4M1544.28,790.5v4M1578.82,1325.0v-4M1578.82,790.5v4M1613.36,1325.0v-4M1613.36,790.5v4M1647.90,1325.0v-7M1647.90,790.5v7M1682.44,1325.0v-4M1682.44,790.5v4M1716.98,1325.0v-4M1716.98,790.5v4M1751.52,1325.0v-4M1751.52,790.5v4M1786.06,1325.0v-4M1786.06,790.5v4M1820.60,1325.0v-7M1820.60,790.5v7M1855.14,1325.0v-4M1855.14,790.5v4M1889.68,1325.0v-4M1889.68,790.5v4M1924.22,1325.0v-4M1924.22,790.5v4M1958.76,1325.0v-4M1958.76,790.5v4M1993.30,1325.0v-7M1993.30,790.5v7M1129.8,1325.00h7M1993.6,1325.00h-7M1129.8,1298.30h4M1993.6,1298.30h-4M1129.8,1271.60h4M1993.6,1271.60h-4M1129.8,1244.90h4M1993.6,1244.90h-4M1129.8,1218.20h7M1993.6,1218.20h-7M1129.8,1191.50h4M1993.6,1191.50h-4M1129.8,1164.80h4M1993.6,1164.80h-4M1129.8,1138.10h4M1993.6,1138.10h-4M1129.8,1111.40h7M1993.6,1111.40h-7M1129.8,1084.70h4M1993.6,1084.70h-4M1129.8,1058.00h4M1993.6,1058.00h-4M1129.8,1031.30h4M1993.6,1031.30h-4M1129.8,1004.60h7M1993.6,1004.60h-7M1129.8,977.90h4M1993.6,977.90h-4M1129.8,951.20h4M1993.6,951.20h-4M1129.8,924.50h4M1993.6,924.50h-4M1129.8,897.80h7M1993.6,897.80h-7M1129.8,871.10h4M1993.6,871.10h-4M1129.8,844.40h4M1993.6,844.40h-4M1129.8,817.70h4M1993.6,817.70h-4M1129.8,791.00h7M1993.6,791.00h-7" stroke="#1a1a1a" stroke-width="1.2" fill="none"/>
<text x="1129.80" y="1357.50" font-size="27" text-anchor="middle" >0</text><text x="1302.50" y="1357.50" font-size="27" text-anchor="middle" >1</text><text x="1475.20" y="1357.50" font-size="27" text-anchor="middle" >2</text><text x="1647.90" y="1357.50" font-size="27" text-anchor="middle" >3</text><text x="1820.60" y="1357.50" font-size="27" text-anchor="middle" >4</text><text x="1993.30" y="1357.50" font-size="27" text-anchor="middle" >5</text><text x="1123.50" y="1332.90" font-size="27" text-anchor="end" letter-spacing="0.5">0.0</text><text x="1123.50" y="1226.10" font-size="27" text-anchor="end" letter-spacing="0.5">0.2</text><text x="1123.50" y="1119.30" font-size="27" text-anchor="end" letter-spacing="0.5">0.4</text><text x="1123.50" y="1012.50" font-size="27" text-anchor="end" letter-spacing="0.5">0.6</text><text x="1123.50" y="905.70" font-size="27" text-anchor="end" letter-spacing="0.5">0.8</text><text x="1123.50" y="798.90" font-size="27" text-anchor="end" letter-spacing="0.5">1.0</text>
<path d="M1817.0,835.4H1867.9" stroke="#0000ff" stroke-width="2.6" fill="none"/>
<text x="1882.00" y="844.80" font-size="27.5" text-anchor="start" letter-spacing="0.2">a=6.2</text>
<path d="M1817.0,884.8H1867.9" stroke="#ff0000" stroke-width="2.6" fill="none"/>
<text x="1882.00" y="894.20" font-size="27.5" text-anchor="start" letter-spacing="0.2">a=7.3</text>
<path d="M1817.0,934.0H1867.9" stroke="#000000" stroke-width="2.6" fill="none"/>
<text x="1882.00" y="943.40" font-size="27.5" text-anchor="start" letter-spacing="0.2">a=8.4</text>
<path d="M1817.0,983.9H1867.9" stroke="#0000ff" stroke-width="2.6" stroke-dasharray="13.2 8.1" fill="none"/>
<text x="1882.00" y="993.30" font-size="27.5" text-anchor="start" letter-spacing="0.2">M=42.0</text>
<path d="M1817.0,1033.5H1867.9" stroke="#ff0000" stroke-width="2.6" stroke-dasharray="13.2 8.1" fill="none"/>
<text x="1882.00" y="1042.90" font-size="27.5" text-anchor="start" letter-spacing="0.2">M=52.0</text>
<path d="M1817.0,1083.0H1867.9" stroke="#000000" stroke-width="2.6" stroke-dasharray="13.2 8.1" fill="none"/>
<text x="1882.00" y="1092.40" font-size="27.5" text-anchor="start" letter-spacing="0.2">M=62.0</text>
<path d="M1264.30,1259.20L1414.42,1081.96" stroke="#000" stroke-width="2.3"/>
<path d="M1432.00,1061.20L1417.05,1093.09L1414.42,1081.96L1403.01,1081.20Z" fill="#000"/>
<text transform="translate(1069.70,1059.00) rotate(-90)" font-size="27.5" text-anchor="middle" letter-spacing="0.5">f'(<tspan font-style="italic">η</tspan>)</text>
<text x="1562.20" y="1399.30" font-size="27" text-anchor="middle" font-style="italic">η</text>
<text x="1555.90" y="1489.70" font-size="54" text-anchor="middle" font-weight="bold">(iv)</text>
<clipPath id="c5"><rect x="565.2" y="1575.4" width="863.3" height="534.5"/></clipPath>
<g clip-path="url(#c5)" fill="none" stroke-width="2.2" stroke-linejoin="round">
<path d="M564.90,1574.63 L570.04,1597.61 L575.30,1619.99 L580.63,1641.61 L586.06,1662.58 L591.59,1682.88 L597.19,1702.39 L602.90,1721.28 L608.72,1739.56 L614.65,1757.22 L620.69,1774.26 L626.88,1790.75 L633.14,1806.53 L639.62,1821.93 L646.10,1836.46 L652.79,1850.60 L659.49,1863.91 L666.40,1876.83 L673.52,1889.35 L680.65,1901.09 L687.99,1912.43 L695.55,1923.35 L703.33,1933.85 L711.32,1943.91 L719.31,1953.29 L727.73,1962.49 L736.37,1971.25 L745.22,1979.59 L754.29,1987.50 L763.58,1995.01 L773.30,2002.28 L783.23,2009.13 L793.60,2015.73 L803.75,2021.68 L814.33,2027.40 L825.12,2032.78 L836.35,2037.92 L848.02,2042.83 L859.89,2047.41 L872.20,2051.76 L885.16,2055.94 L898.33,2059.81 L912.15,2063.52 L926.41,2066.98 L941.31,2070.27 L956.64,2073.32 L972.62,2076.18 L989.25,2078.86 L1006.53,2081.34 L1024.23,2083.62 L1042.59,2085.73 L1081.89,2089.49 L1125.08,2092.71 L1172.59,2095.40 L1225.29,2097.64 L1284.46,2099.47 L1351.62,2100.94 L1428.50,2102.09" stroke="#000000" stroke-dasharray="12.8 8.5"/>
<path d="M564.90,1576.39 L570.73,1597.52 L576.65,1618.03 L582.70,1638.02 L588.82,1657.34 L595.05,1676.11 L601.40,1694.33 L607.87,1712.06 L614.46,1729.20 L621.14,1745.77 L627.96,1761.83 L634.87,1777.31 L642.00,1792.47 L649.34,1807.28 L656.68,1821.32 L664.24,1835.01 L671.80,1847.98 L679.57,1860.60 L687.56,1872.86 L695.77,1884.76 L703.97,1895.98 L712.61,1907.12 L721.25,1917.60 L730.10,1927.72 L739.17,1937.46 L748.46,1946.83 L757.96,1955.83 L767.68,1964.45 L777.61,1972.70 L787.76,1980.58 L798.35,1988.26 L809.14,1995.56 L820.16,2002.49 L830.96,2008.83 L842.18,2014.97 L853.63,2020.79 L865.51,2026.40 L877.60,2031.69 L890.13,2036.77 L902.87,2041.55 L916.04,2046.11 L929.65,2050.46 L943.68,2054.58 L958.15,2058.47 L973.05,2062.15 L988.39,2065.62 L1004.37,2068.91 L1020.99,2072.03 L1038.06,2074.93 L1055.55,2077.62 L1073.69,2080.15 L1092.48,2082.51 L1112.13,2084.73 L1153.59,2088.69 L1198.72,2092.10 L1247.96,2094.98 L1301.95,2097.39 L1361.77,2099.37 L1428.50,2100.96" stroke="#ff0000" stroke-dasharray="12.8 8.5"/>
<path d="M564.90,1577.68 L571.96,1597.23 L579.09,1616.27 L586.30,1634.78 L593.62,1652.88 L601.02,1670.46 L608.53,1687.62 L616.15,1704.35 L623.86,1720.59 L631.63,1736.31 L639.62,1751.82 L647.61,1766.67 L655.82,1781.29 L664.02,1795.29 L672.45,1809.03 L681.08,1822.50 L689.72,1835.36 L698.58,1847.95 L707.43,1859.96 L716.50,1871.69 L725.79,1883.12 L735.29,1894.25 L744.79,1904.83 L754.51,1915.11 L764.44,1925.07 L774.38,1934.51 L784.53,1943.64 L794.68,1952.25 L805.04,1960.55 L815.62,1968.53 L826.42,1976.18 L837.43,1983.50 L848.66,1990.49 L860.33,1997.31 L872.20,2003.83 L884.51,2010.17 L897.25,2016.33 L910.43,2022.32 L923.82,2028.02 L937.42,2033.43 L951.46,2038.65 L965.49,2043.50 L979.75,2048.09 L994.43,2052.46 L1009.33,2056.57 L1024.67,2060.46 L1040.21,2064.10 L1056.20,2067.52 L1072.61,2070.74 L1089.24,2073.71 L1106.30,2076.48 L1123.79,2079.05 L1141.93,2081.46 L1180.15,2085.79 L1221.40,2089.50 L1265.89,2092.61 L1314.48,2095.19 L1368.25,2097.31 L1428.50,2099.01" stroke="#0000ff" stroke-dasharray="12.8 8.5"/>
<path d="M564.90,1919.28 L579.02,1932.75 L593.55,1945.58 L608.49,1957.74 L623.86,1969.26 L639.62,1980.12 L655.82,1990.35 L672.66,2000.09 L689.94,2009.19 L707.86,2017.79 L726.22,2025.77 L745.44,2033.34 L765.31,2040.39 L785.82,2046.92 L807.20,2053.02 L829.44,2058.68 L852.55,2063.89 L875.87,2068.54 L900.28,2072.84 L925.76,2076.79 L952.32,2080.37 L980.18,2083.64 L1009.55,2086.60 L1040.43,2089.27 L1073.26,2091.68 L1107.59,2093.79 L1143.87,2095.65 L1182.74,2097.29 L1224.42,2098.72 L1269.13,2099.95 L1317.72,2100.99 L1428.50,2102.58" stroke="#000000"/>
<path d="M564.90,1972.00 L578.30,1981.40 L592.16,1990.33 L606.46,1998.78 L621.26,2006.80 L636.60,2014.40 L652.58,2021.63 L669.21,2028.48 L686.27,2034.87 L703.97,2040.89 L722.55,2046.61 L741.77,2051.96 L761.63,2056.94 L782.37,2061.62 L803.96,2066.00 L826.64,2070.10 L850.18,2073.91 L874.58,2077.41 L900.06,2080.65 L926.62,2083.64 L954.48,2086.39 L983.63,2088.91 L1014.30,2091.22 L1046.48,2093.31 L1080.17,2095.18 L1115.37,2096.84 L1152.29,2098.30 L1191.38,2099.59 L1232.63,2100.69 L1323.11,2102.41 L1428.50,2103.54" stroke="#ff0000"/>
<path d="M564.90,2025.47 L579.62,2031.23 L594.71,2036.71 L610.18,2041.91 L626.01,2046.84 L642.21,2051.48 L659.06,2055.92 L676.12,2060.05 L693.82,2063.96 L711.96,2067.62 L730.54,2071.03 L749.97,2074.27 L769.84,2077.25 L790.57,2080.05 L811.95,2082.64 L833.98,2085.03 L857.09,2087.25 L904.38,2091.03 L955.99,2094.21 L1012.57,2096.83 L1075.42,2098.96 L1145.38,2100.62 L1225.07,2101.90 L1317.72,2102.85 L1428.50,2103.53" stroke="#0000ff"/>
</g>
<path d="M565.2,1575.8000000000002V2110.6" stroke="#000" stroke-width="2.0"/>
<path d="M564.6,1576.4H1429.5" stroke="#111" stroke-width="1.2"/>
<path d="M1428.5,1575.8000000000002V2110.6" stroke="#333" stroke-width="1.5"/>
<path d="M564.6,2109.9H1429.5" stroke="#000" stroke-width="2.0"/>
<path d="M565.00,2109.9v-7M565.00,1576.4v7M602.52,2109.9v-4M602.52,1576.4v4M640.04,2109.9v-4M640.04,1576.4v4M677.56,2109.9v-4M677.56,1576.4v4M715.08,2109.9v-4M715.08,1576.4v4M752.60,2109.9v-7M752.60,1576.4v7M790.12,2109.9v-4M790.12,1576.4v4M827.64,2109.9v-4M827.64,1576.4v4M865.16,2109.9v-4M865.16,1576.4v4M902.68,2109.9v-4M902.68,1576.4v4M940.20,2109.9v-7M940.20,1576.4v7M977.72,2109.9v-4M977.72,1576.4v4M1015.24,2109.9v-4M1015.24,1576.4v4M1052.76,2109.9v-4M1052.76,1576.4v4M1090.28,2109.9v-4M1090.28,1576.4v4M1127.80,2109.9v-7M1127.80,1576.4v7M1165.32,2109.9v-4M1165.32,1576.4v4M1202.84,2109.9v-4M1202.84,1576.4v4M1240.36,2109.9v-4M1240.36,1576.4v4M1277.88,2109.9v-4M1277.88,1576.4v4M1315.40,2109.9v-7M1315.40,1576.4v7M1352.92,2109.9v-4M1352.92,1576.4v4M1390.44,2109.9v-4M1390.44,1576.4v4M1427.96,2109.9v-4M1427.96,1576.4v4M565.2,2104.50h7M1428.5,2104.50h-7M565.2,2078.10h4M1428.5,2078.10h-4M565.2,2051.70h4M1428.5,2051.70h-4M565.2,2025.30h4M1428.5,2025.30h-4M565.2,1998.90h7M1428.5,1998.90h-7M565.2,1972.50h4M1428.5,1972.50h-4M565.2,1946.10h4M1428.5,1946.10h-4M565.2,1919.70h4M1428.5,1919.70h-4M565.2,1893.30h7M1428.5,1893.30h-7M565.2,1866.90h4M1428.5,1866.90h-4M565.2,1840.50h4M1428.5,1840.50h-4M565.2,1814.10h4M1428.5,1814.10h-4M565.2,1787.70h7M1428.5,1787.70h-7M565.2,1761.30h4M1428.5,1761.30h-4M565.2,1734.90h4M1428.5,1734.90h-4M565.2,1708.50h4M1428.5,1708.50h-4M565.2,1682.10h7M1428.5,1682.10h-7M565.2,1655.70h4M1428.5,1655.70h-4M565.2,1629.30h4M1428.5,1629.30h-4M565.2,1602.90h4M1428.5,1602.90h-4M565.2,1576.50h7M1428.5,1576.50h-7" stroke="#1a1a1a" stroke-width="1.2" fill="none"/>
<text x="565.00" y="2142.40" font-size="27" text-anchor="middle" >0</text><text x="752.60" y="2142.40" font-size="27" text-anchor="middle" >1</text><text x="940.20" y="2142.40" font-size="27" text-anchor="middle" >2</text><text x="1127.80" y="2142.40" font-size="27" text-anchor="middle" >3</text><text x="1315.40" y="2142.40" font-size="27" text-anchor="middle" >4</text><text x="558.80" y="2112.40" font-size="27" text-anchor="end" letter-spacing="0.5">0.0</text><text x="558.80" y="2006.80" font-size="27" text-anchor="end" letter-spacing="0.5">0.2</text><text x="558.80" y="1901.20" font-size="27" text-anchor="end" letter-spacing="0.5">0.4</text><text x="558.80" y="1795.60" font-size="27" text-anchor="end" letter-spacing="0.5">0.6</text><text x="558.80" y="1690.00" font-size="27" text-anchor="end" letter-spacing="0.5">0.8</text><text x="558.80" y="1584.40" font-size="27" text-anchor="end" letter-spacing="0.5">1.0</text>
<path d="M1251.9,1617.7H1302.1" stroke="#0000ff" stroke-width="2.8" fill="none"/>
<text x="1316.90" y="1628.00" font-size="27.5" text-anchor="start" letter-spacing="0.2">a=0.15</text>
<path d="M1251.9,1666.9H1302.1" stroke="#ff0000" stroke-width="2.8" fill="none"/>
<text x="1316.90" y="1677.20" font-size="27.5" text-anchor="start" letter-spacing="0.2">a=0.25</text>
<path d="M1251.9,1715.6H1302.1" stroke="#000000" stroke-width="2.8" fill="none"/>
<text x="1316.90" y="1725.90" font-size="27.5" text-anchor="start" letter-spacing="0.2">a=0.35</text>
<path d="M1251.9,1764.5H1302.1" stroke="#0000ff" stroke-width="2.8" stroke-dasharray="13.2 8" fill="none"/>
<text x="1316.90" y="1774.80" font-size="27.5" text-anchor="start" letter-spacing="0.2">M=0.0</text>
<path d="M1251.9,1814.0H1302.1" stroke="#ff0000" stroke-width="2.8" stroke-dasharray="13.2 8" fill="none"/>
<text x="1316.90" y="1824.30" font-size="27.5" text-anchor="start" letter-spacing="0.2">M=9.0</text>
<path d="M1251.9,1863.0H1302.1" stroke="#000000" stroke-width="2.8" stroke-dasharray="13.2 8" fill="none"/>
<text x="1316.90" y="1873.30" font-size="27.5" text-anchor="start" letter-spacing="0.2">M=18.0</text>
<path d="M612.40,2065.20L661.81,1974.30" stroke="#000" stroke-width="2.3"/>
<path d="M674.80,1950.40L666.65,1984.67L661.81,1974.30L650.48,1975.88Z" fill="#000"/>
<path d="M782.80,1909.20L731.71,1995.03" stroke="#000" stroke-width="2.3"/>
<path d="M717.80,2018.40L727.28,1984.48L731.71,1995.03L743.10,1993.89Z" fill="#000"/>
<text transform="translate(505.00,1843.40) rotate(-90)" font-size="27.5" text-anchor="middle" letter-spacing="0.5">f'(<tspan font-style="italic">η</tspan>)</text>
<text x="997.00" y="2183.30" font-size="27" text-anchor="middle" font-style="italic">η</text>
<text x="988.10" y="2265.00" font-size="54" text-anchor="middle" font-weight="bold">(v)</text>
</svg>
</body></html>
